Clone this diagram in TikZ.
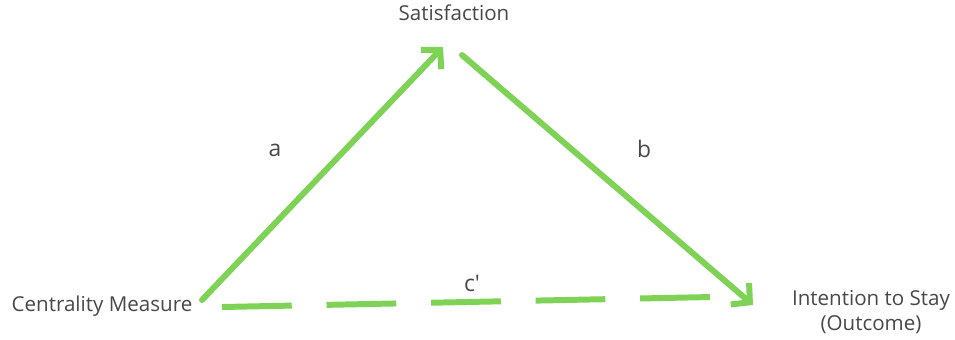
\documentclass[tikz,border=0pt]{standalone}
\usepackage{fontspec}
\setmainfont{Open Sans}
\usetikzlibrary{arrows.meta}
\definecolor{vert}{RGB}{126,210,86}
\definecolor{gristexte}{RGB}{72,72,72}
\begin{document}
\begin{tikzpicture}[x=0.02cm,y=-0.02cm]
% Styles
\tikzstyle{fleche}=[-{Straight Barb[length=7.5pt,width=16pt]},line width=3.4pt,line cap=round,draw=vert]
\tikzstyle{pointilles}=[-,line width=3.4pt,draw=vert,dash pattern=on 39.7pt off 19.8pt]
\tikzstyle{noeud}=[text=gristexte,font=\fontsize{11.7}{14.5}\selectfont,inner sep=0pt]
\tikzstyle{etiquette}=[text=gristexte,font=\fontsize{13}{15}\selectfont,inner sep=0pt]
% Cadre
\useasboundingbox (0,0) rectangle (955,339);
% Noeuds
\node[noeud] (S) at (454,13) {Satisfaction};
\node[noeud] (C) at (102,306) {Centrality Measure};
\node[noeud,align=center] (I) at (871,312) {Intention to Stay\\(Outcome)};
% Extremites des arcs
\coordinate (Ca) at (202,300);
\coordinate (Sa) at (443,47);
\coordinate (Sb) at (462,55);
\coordinate (Ib) at (753,305);
\coordinate (Cc) at (222,307);
\coordinate (Ic) at (712,297);
% Arcs
\draw[fleche] (Ca)--(Sa);
\draw[fleche] (Sb)--(Ib);
\draw[pointilles] (Cc)--(Ic);
% Etiquettes
\node[etiquette] (a) at (275,150) {a};
\node[etiquette] (b) at (644,149) {b};
\node[etiquette] (c) at (472,283) {c\textquotesingle};
\end{tikzpicture}
\end{document}
